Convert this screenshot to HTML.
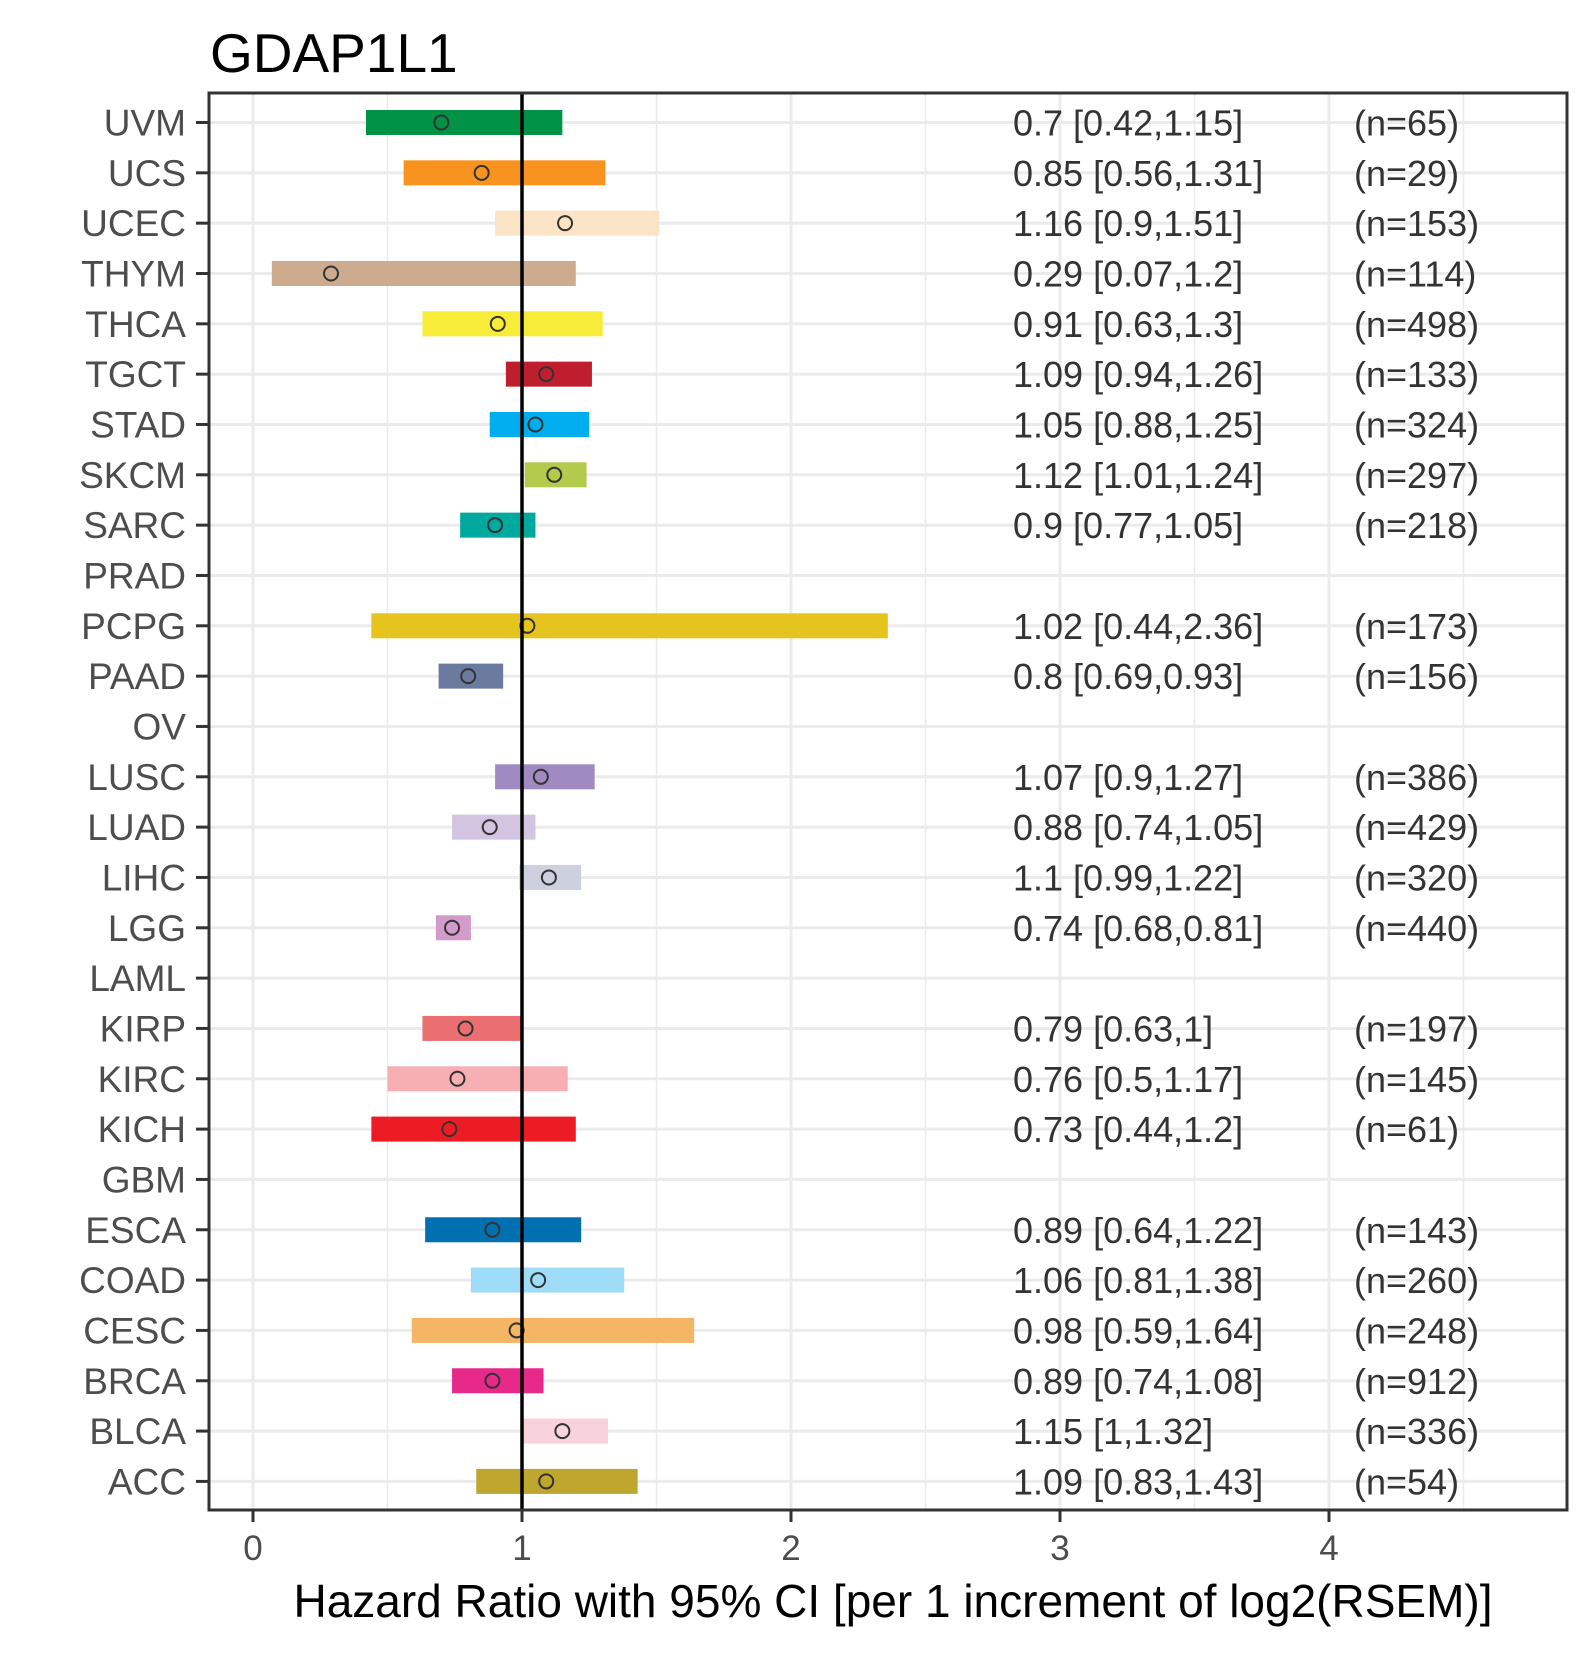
<!DOCTYPE html>
<html><head><meta charset="utf-8"><style>
body{margin:0;background:#fff}
svg text{font-family:"Liberation Sans",Arial,sans-serif}
</style></head><body>
<svg id="chart" width="1590" height="1650" xmlns="http://www.w3.org/2000/svg">
<text x="210" y="72" font-size="55" fill="#000">GDAP1L1</text>
<g id="grid"></g><g id="marks"></g><g id="labels"></g>
<rect x="209" y="93" width="1358" height="1417" fill="none" stroke="#333" stroke-width="3"/>
<text x="893" y="1617" font-size="46" text-anchor="middle" fill="#000">Hazard Ratio with 95% CI [per 1 increment of log2(RSEM)]</text>
</svg>
<script>
const cancers=["UVM","UCS","UCEC","THYM","THCA","TGCT","STAD","SKCM","SARC","PRAD","PCPG","PAAD","OV","LUSC","LUAD","LIHC","LGG","LAML","KIRP","KIRC","KICH","GBM","ESCA","COAD","CESC","BRCA","BLCA","ACC"];
const hr=[0.7,0.85,1.16,0.29,0.91,1.09,1.05,1.12,0.9,null,1.02,0.8,null,1.07,0.88,1.1,0.74,null,0.79,0.76,0.73,null,0.89,1.06,0.98,0.89,1.15,1.09];
const lo=[0.42,0.56,0.9,0.07,0.63,0.94,0.88,1.01,0.77,null,0.44,0.69,null,0.9,0.74,0.99,0.68,null,0.63,0.5,0.44,null,0.64,0.81,0.59,0.74,1,0.83];
const hi=[1.15,1.31,1.51,1.2,1.3,1.26,1.25,1.24,1.05,null,2.36,0.93,null,1.27,1.05,1.22,0.81,null,1,1.17,1.2,null,1.22,1.38,1.64,1.08,1.32,1.43];
const nums=[65,29,153,114,498,133,324,297,218,null,173,156,null,386,429,320,440,null,197,145,61,null,143,260,248,912,336,54];
const colors=["#009245","#F7931E","#FBE3C6","#CDAB8E","#F7EC37","#BE1E2D","#00ADEE","#B3CB4C","#00A99D","#999","#E6C41E","#6B7A9F","#999","#A08AC2","#D3C5E2","#CDD0DE","#D29BC9","#999","#EB6F70","#F8AFB3","#ED1C24","#999","#0070B0","#9EDCF8","#F4B565","#E7298A","#F8D3DC","#BFA72F"];
const xTicks=[0,1,2,3,4];
const NS="http://www.w3.org/2000/svg";
const X=v=>253+v*269;
const Y=i=>122.5+i*50.33;
function el(t,a,p){const e=document.createElementNS(NS,t);for(const k in a)e.setAttribute(k,a[k]);document.getElementById(p).appendChild(e);return e;}
for(let v=0.5;v<=4.5;v+=1){const l=el('line',{x1:X(v),x2:X(v),y1:93,y2:1510,stroke:'#ebebeb','stroke-width':1.5},'grid');

}
xTicks.forEach(v=>{const l=el('line',{x1:X(v),x2:X(v),y1:93,y2:1510,stroke:'#ebebeb','stroke-width':3},'grid');


const t=el('line',{x1:X(v),x2:X(v),y1:1510,y2:1522,stroke:'#333','stroke-width':3},'grid');


const tx=el('text',{x:X(v),y:1560,'font-size':35,'text-anchor':'middle',fill:'#4d4d4d'},'labels');tx.textContent=v;

});
cancers.forEach((c,i)=>{const y=Y(i);
const g=el('line',{x1:209,x2:1567,y1:y,y2:y,stroke:'#ebebeb','stroke-width':3},'grid');


const tk=el('line',{x1:196,x2:209,y1:y,y2:y,stroke:'#333','stroke-width':3},'grid');


const lb=el('text',{x:186,y:y+13,'font-size':37,'text-anchor':'end',fill:'#4d4d4d'},'labels');lb.textContent=c;


if(hr[i]==null)return;
const b=el('rect',{x:X(lo[i]),y:y-12.5,width:X(hi[i])-X(lo[i]),height:25,fill:colors[i]},'marks');


const p=el('circle',{cx:X(hr[i]),cy:y,r:7,fill:'none',stroke:'#333','stroke-width':2},'marks');


const t1=el('text',{x:1013,y:y+13,'font-size':36,fill:'#333'},'labels');t1.textContent=hr[i]+' ['+lo[i]+','+hi[i]+']';


const t2=el('text',{x:1354,y:y+13,'font-size':36,fill:'#333'},'labels');t2.textContent='(n='+nums[i]+')';

});
const ref=el('line',{x1:X(1),x2:X(1),y1:93,y2:1510,stroke:'#000','stroke-width':3.5},'marks');


</script>
</body></html>
